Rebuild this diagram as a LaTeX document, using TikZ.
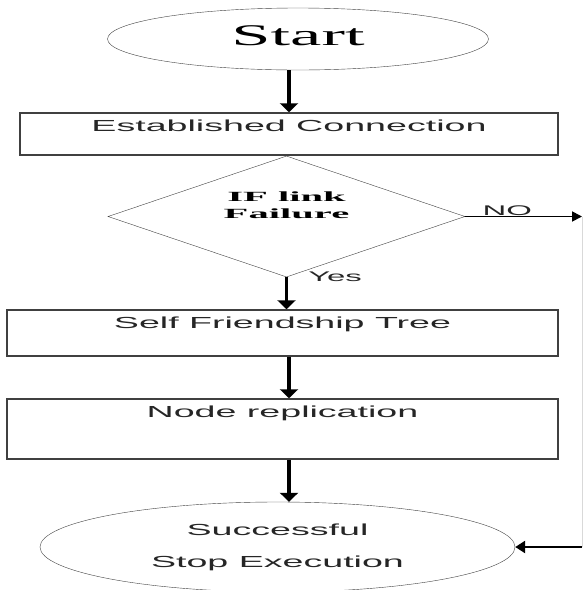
\documentclass[tikz,border=0pt]{standalone}
\usepackage{fontspec}
\usetikzlibrary{shapes.geometric,arrows.meta,positioning}
\newfontfamily\wideserif[FakeStretch=2.35]{Liberation Serif}
\newfontfamily\wideserifbf[FakeStretch=2.9]{Liberation Serif Bold}
\newfontfamily\widesans[FakeStretch=2.35]{Liberation Sans}
\begin{document}
\begin{tikzpicture}[x=1pt,y=-1pt]
\tikzstyle{terminal} = [ellipse, draw=black!75, thin, align=center]
\tikzstyle{process} = [rectangle, draw=black!75, line width=1.5pt, inner ysep=0pt, text=black!85, font=\widesans\fontsize{16}{19}\selectfont]
\tikzstyle{decision} = [diamond, draw=black!75, thin, align=center, aspect=2.95, minimum width=357pt, minimum height=121pt, inner sep=0pt, font=\wideserifbf\fontsize{14}{17}\selectfont]
\tikzstyle{arrow} = [line width=3.5pt, -{Triangle[length=9pt,width=18pt]}]
\useasboundingbox (0,0) rectangle (583,590);
\node (start) [terminal, minimum width=381pt, minimum height=62pt, text height=20pt, text depth=8pt, font=\wideserif\fontsize{30}{36}\selectfont] at (298,39) {Start};
\node (conn) [process, below of=start, node distance=95pt, xshift=-9pt, minimum width=538pt, text height=18.7pt, text depth=23.3pt] {Established Connection};
\node (dec) [decision, below of=conn, node distance=82.5pt, xshift=-2.5pt, text height=28pt, text depth=24pt] {IF link\\Failure};
\node (self) [process, below of=dec, node distance=116.5pt, xshift=-4pt, minimum width=551pt, text height=18.7pt, text depth=27.3pt] {Self Friendship Tree};
\node (repl) [process, below of=self, node distance=96pt, minimum width=551pt, text height=18.7pt, text depth=41.3pt] {Node replication};
\node (stop) [terminal, below of=repl, node distance=118pt, xshift=-5pt, minimum width=475pt, minimum height=90pt, text=black!85, font=\widesans\fontsize{16}{32}\selectfont] {Successful\\Stop Execution};
\coordinate (noend) at (582,216.5);
\draw [arrow] (start.south -| conn.north) -- (conn.north);
\draw [arrow] (dec.south) -- (dec.south |- self.north) node [pos=0, anchor=west, xshift=20pt, inner sep=0pt, text=black!85, font=\widesans\fontsize{14}{16}\selectfont] {Yes};
\draw [arrow] (self.south -| conn.south) -- (repl.north -| conn.south);
\draw [arrow] (repl.south -| conn.south) -- (stop.north -| conn.south);
\draw [line width=1.8pt, -{Triangle[length=10pt,width=10pt]}] (dec.east) -- (noend) node [pos=0.36, anchor=south, inner sep=0pt, text=black!85, font=\widesans\fontsize{14}{16}\selectfont] {NO};
\draw [gray!30, line width=1pt] (noend) -- (noend |- stop.east);
\draw [line width=2.5pt, -{Triangle[length=10pt,width=12pt]}] (noend |- stop.east) -- (stop.east);
\end{tikzpicture}
\end{document}
